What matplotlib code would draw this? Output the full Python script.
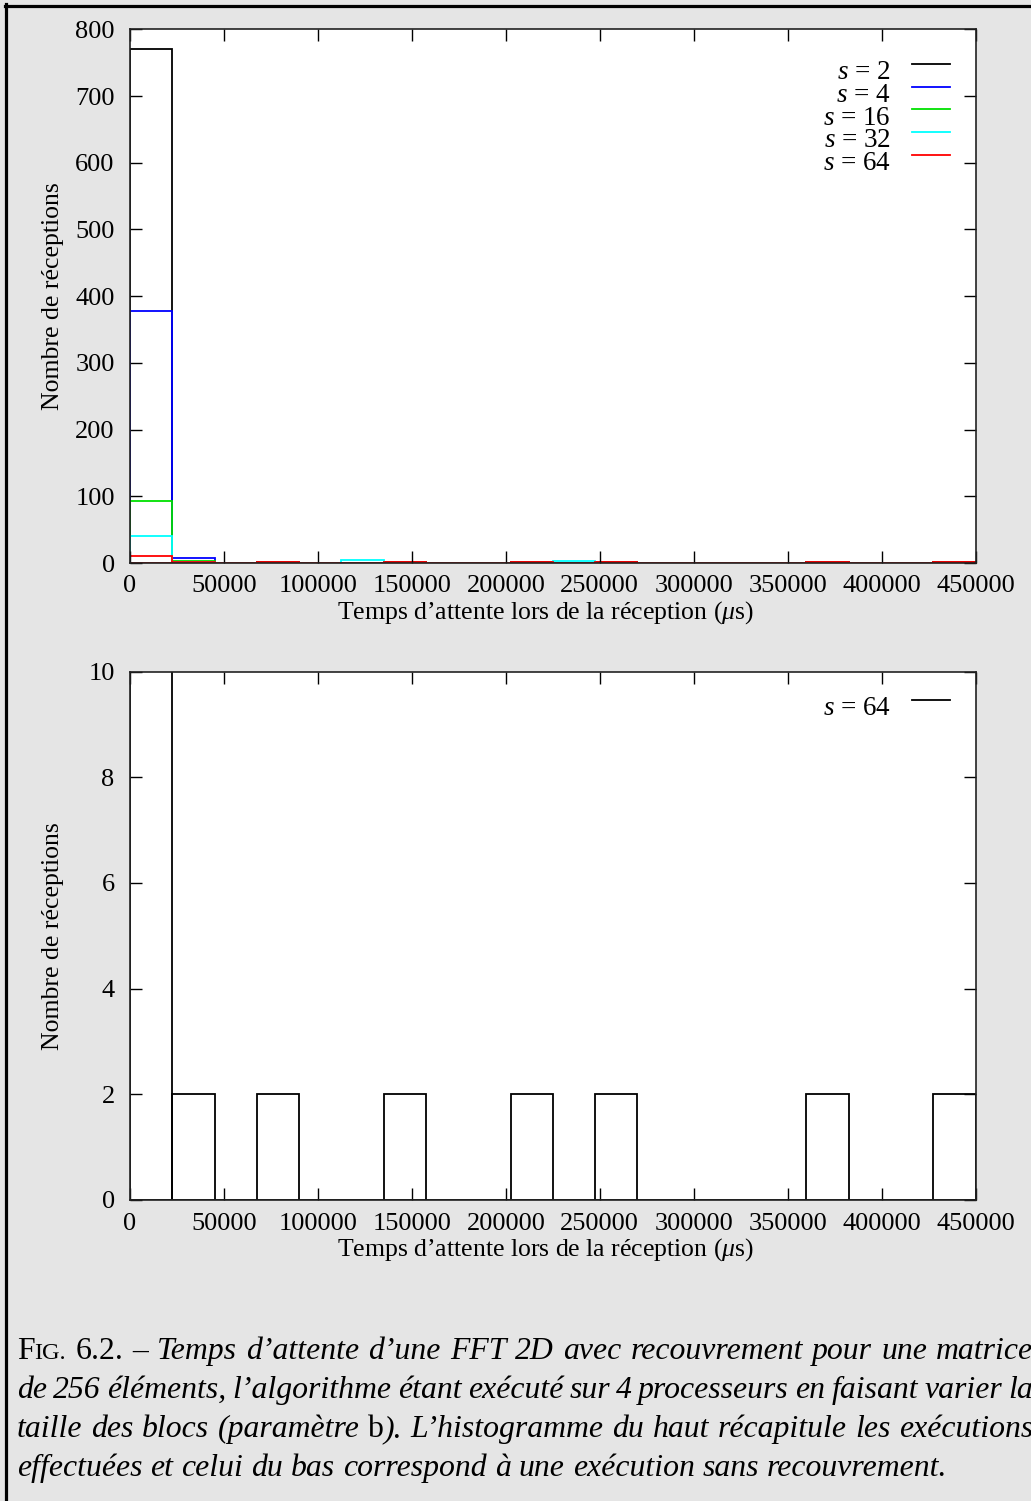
import matplotlib
matplotlib.use("Agg")
import matplotlib.pyplot as plt
from matplotlib.lines import Line2D
import numpy as np

# ---------------- data ----------------
bin_left = [0, 22500, 45000, 67500, 90000, 112500, 135000, 157500, 180000, 202500,
            225000, 247500, 270000, 292500, 315000, 337500, 360000, 382500, 405000, 427500]
bin_width = 22500

s2  = [770, 1, 0, 1, 0, 0, 1, 0, 0, 1, 0, 1, 0, 0, 0, 0, 1, 0, 0, 1]
s4  = [378, 7, 0, 0, 0, 0, 0, 0, 0, 0, 0, 0, 0, 0, 0, 0, 0, 0, 0, 0]
s16 = [93, 3, 0, 0, 0, 0, 0, 0, 0, 0, 0, 0, 0, 0, 0, 0, 0, 0, 0, 0]
s32 = [41, 2, 0, 0, 0, 4, 0, 0, 0, 0, 3, 0, 0, 0, 0, 0, 0, 0, 0, 0]
s64 = [11, 2, 0, 2, 0, 0, 2, 0, 0, 2, 0, 2, 0, 0, 0, 0, 2, 0, 0, 2]

bottom_s64 = [11, 2, 0, 2, 0, 0, 2, 0, 0, 2, 0, 2, 0, 0, 0, 0, 2, 0, 0, 2]

top_series = [("$s$ = 2", s2), ("$s$ = 4", s4), ("$s$ = 16", s16),
              ("$s$ = 32", s32), ("$s$ = 64", s64)]
top_colors = ["#000000", "#0000ff", "#00e000", "#00ffff", "#ff0000"]

x_ticks = [0, 50000, 100000, 150000, 200000, 250000, 300000, 350000, 400000, 450000]
top_yticks = [0, 100, 200, 300, 400, 500, 600, 700, 800]
bot_yticks = [0, 2, 4, 6, 8, 10]

xlabel = "Temps d\u2019attente lors de la r\u00e9ception ($\\mu$s)"
ylabel = "Nombre de r\u00e9ceptions"

# ---------------- style ----------------
plt.rcParams["font.family"] = ["Liberation Serif", "DejaVu Serif"]
plt.rcParams["mathtext.fontset"] = "custom"
plt.rcParams["mathtext.rm"] = "Liberation Serif"
plt.rcParams["mathtext.it"] = "Liberation Serif:italic"
plt.rcParams["mathtext.bf"] = "Liberation Serif:bold"

W, H = 1031, 1501
BG = "#e5e5e5"
fig = plt.figure(figsize=(W / 100, H / 100), dpi=100, facecolor=BG)

def px_ax(left, top, right, bottom):
    return fig.add_axes([left / W, 1 - bottom / H, (right - left) / W, (bottom - top) / H])

TICK_FS = 19
LAB_FS = 18.5
LEG_FS = 19.5

def style_axes(ax, yticks, ymax, xlab_y_px, ax_top, ax_bot):
    ax.set_facecolor("white")
    ax.set_xlim(0, 450000)
    ax.set_ylim(0, ymax)
    ax.set_xticks(x_ticks)
    ax.set_xticklabels([str(v) for v in x_ticks])
    ax.set_yticks(yticks)
    ax.set_yticklabels([str(v) for v in yticks])
    ax.tick_params(direction="in", length=8.5, width=1, top=True, right=True,
                   labelsize=TICK_FS, colors="black")
    ax.tick_params(axis="x", pad=9)
    ax.tick_params(axis="y", pad=11)
    for sp in ax.spines.values():
        sp.set_linewidth(1.2)
        sp.set_color("#222222")
    ax.set_xlabel(xlabel, fontsize=LAB_FS)
    ax.xaxis.label.set_va("center")
    h = ax_bot - ax_top
    ax.xaxis.set_label_coords((545.5 - 130) / 845.6, -(xlab_y_px - ax_bot) / h)
    ax.set_ylabel(ylabel, fontsize=LAB_FS)
    ax.yaxis.label.set_va("center")
    ax.yaxis.set_label_coords((53 - 130) / 845.6, 0.5)

def legend_px(ax, ax_top, ax_bot, entries, colors, text_y0, line_y0):
    h = ax_bot - ax_top
    for i, (lab, col) in enumerate(zip(entries, colors)):
        ty = text_y0 + i * 22.7
        ly = line_y0 + i * 22.7
        yt = 1 - (ty - ax_top) / h
        yl = 1 - (ly - ax_top) / h
        ax.text((890.7 - 130) / 845.6, yt, lab, transform=ax.transAxes,
                ha="right", va="baseline", fontsize=LEG_FS)
        ax.add_line(Line2D([(911.7 - 130) / 845.6, (949.7 - 130) / 845.6], [yl, yl],
                           transform=ax.transAxes, color=col, linewidth=1.3))

# ---- top plot ----
t_top, t_bot = 29.3, 563
ax1 = px_ax(130, t_top, 975.6, t_bot)
for (lab, vals), col in zip(top_series, top_colors):
    ax1.bar(bin_left, vals, width=bin_width, align="edge", fill=False,
            edgecolor=col, linewidth=1.3)
style_axes(ax1, top_yticks, 800, 613, t_top, t_bot)
legend_px(ax1, t_top, t_bot, [s[0] for s in top_series], top_colors, 79.3, 64)

# ---- bottom plot ----
b_top, b_bot = 671.5, 1200
ax2 = px_ax(130, b_top, 975.6, b_bot)
ax2.bar(bin_left, bottom_s64, width=bin_width, align="edge", fill=False,
        edgecolor="black", linewidth=1.3)
style_axes(ax2, bot_yticks, 10, 1250, b_top, b_bot)
legend_px(ax2, b_top, b_bot, ["$s$ = 64"], ["#000000"], 715, 700)

# ---- border ----
fig.add_artist(Line2D([6 / W, 6 / W], [0, 1 - 4 / H], color="black", linewidth=2.3,
                      transform=fig.transFigure))
fig.add_artist(Line2D([4.5 / W, 1], [1 - 5.5 / H, 1 - 5.5 / H], color="black",
                      linewidth=2.3, transform=fig.transFigure))

# ---- caption (justified) ----
CAP_FS = 22.9
SC_FS = 17.5
renderer = fig.canvas.get_renderer()

def seg(text, style="italic", size=CAP_FS):
    return (text, style, size)

caption_lines = [
    [[seg("F", "normal"), seg("IG.", "normal", SC_FS)], [seg("6.2.", "normal")], [seg("\u2013", "normal")],
     [seg("Temps")], [seg("d\u2019attente")], [seg("d\u2019une")], [seg("FFT")], [seg("2D")],
     [seg("avec")], [seg("recouvrement")], [seg("pour")], [seg("une")], [seg("matrice")]],
    [[seg(w)] for w in "de 256 \u00e9l\u00e9ments, l\u2019algorithme \u00e9tant ex\u00e9cut\u00e9 sur 4 processeurs en faisant varier la".split()],
    [[seg("taille")], [seg("des")], [seg("blocs")], [seg("(param\u00e8tre")],
     [seg("b", "normal"), seg(").")], [seg("L\u2019histogramme")], [seg("du")], [seg("haut")],
     [seg("r\u00e9capitule")], [seg("les")], [seg("ex\u00e9cutions")]],
    [[seg(w)] for w in "effectu\u00e9es et celui du bas correspond \u00e0 une ex\u00e9cution sans recouvrement.".split()],
]
baselines = [1359, 1398, 1437, 1476]
justify = [True, True, True, False]
x0, x1 = 17, 1033

def width_of(s, style, size):
    t = fig.text(0, 0, s, fontsize=size, style=style)
    w = t.get_window_extent(renderer).width
    t.remove()
    return w

space_w = width_of("a a", "italic", CAP_FS) - width_of("aa", "italic", CAP_FS)

for words, yb, just in zip(caption_lines, baselines, justify):
    wwidths = []
    for word in words:
        wwidths.append(sum(width_of(s, st, sz) for s, st, sz in word))
    total = sum(wwidths)
    gap = (x1 - x0 - total) / (len(words) - 1) if just else space_w
    x = x0
    for word, ww in zip(words, wwidths):
        xx = x
        for s, st, sz in word:
            fig.text(xx / W, 1 - yb / H, s, fontsize=sz, style=st, ha="left", va="baseline")
            xx += width_of(s, st, sz)
        x += ww + gap

fig.savefig("out.png", dpi=100, facecolor=BG)
